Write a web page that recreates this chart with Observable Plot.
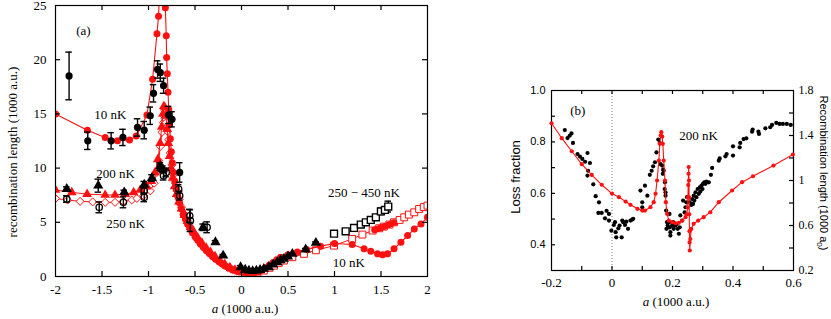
<!DOCTYPE html>
<html><head><meta charset="utf-8">
<script src="https://cdn.jsdelivr.net/npm/d3@7"></script>
<script src="https://cdn.jsdelivr.net/npm/@observablehq/plot@0.6"></script>
<style>
body{margin:0;background:#fff;}
#wrap{position:relative;width:831px;height:319px;overflow:hidden;background:#fff;}
.layer{position:absolute;top:0;}
.layer svg{max-width:none;background:transparent;}
.lbl{position:absolute;white-space:nowrap;color:#000;line-height:1;}
.serif{font-family:"Liberation Serif","Times New Roman",Times,serif;}
.sans{font-family:"Liberation Sans",Arial,Helvetica,sans-serif;}
</style></head>
<body><div id="wrap"></div>
<script>
// ---------- Panel (a) data: [a (1000 a.u.), recombination length (1000 a.u.)] ----------
const theory10nK = [[-2,15.0],[-1.657,13.5],[-1.466,12.83],[-1.334,12.52],[-1.204,12.59],[-1.132,12.95],[-1.017,14.9],[-0.956,18.2],[-0.909,22.4],[-0.892,24.0],[-0.855,32],[-0.819,24.8],[-0.809,22.2],[-0.805,20.2],[-0.798,18.7],[-0.79,17.0],[-0.782,15.4],[-0.774,14.0],[-0.765,12.7],[-0.755,11.5],[-0.744,10.5],[-0.732,9.6],[-0.718,8.8],[-0.703,8.1],[-0.686,7.4],[-0.668,6.8],[-0.648,6.25],[-0.627,5.75],[-0.604,5.3],[-0.58,4.85],[-0.555,4.45],[-0.528,4.05],[-0.5,3.7],[-0.47,3.35],[-0.44,3.0],[-0.41,2.7],[-0.378,2.4],[-0.345,2.12],[-0.312,1.85],[-0.278,1.6],[-0.243,1.38],[-0.207,1.15],[-0.17,0.95],[-0.133,0.75],[-0.095,0.6],[-0.057,0.5],[-0.02,0.42],[0.02,0.38],[0.06,0.35],[0.1,0.33],[0.14,0.35],[0.18,0.42],[0.22,0.58],[0.26,0.8],[0.3,1.05],[0.34,1.3],[0.38,1.55],[0.42,1.78],[0.5,2.0],[0.6,2.25],[0.7,2.5],[0.85,2.8],[1.0,3.05],[1.19,2.95],[1.318,2.55],[1.39,2.33],[1.463,2.09],[1.517,2.0],[1.57,2.09],[1.64,2.55],[1.714,3.16],[1.786,3.78],[1.858,4.39],[1.93,4.85],[2.0,5.46]];
const theory10nKUpper = [[1.43,4.3],[1.46,4.38],[1.49,4.47],[1.52,4.56],[1.55,4.65],[1.58,4.75],[1.61,4.86],[1.64,4.97]];
const theory200nK = [[-2,7.98],[-1.825,7.76],[-1.66,7.6],[-1.466,7.52],[-1.36,7.52],[-1.25,7.6],[-1.16,7.76],[-1.09,7.98],[-1.017,8.29],[-0.97,8.8],[-0.93,9.6],[-0.9,10.8],[-0.875,12.3],[-0.858,13.8],[-0.845,15.0],[-0.835,15.7],[-0.825,15.6],[-0.812,14.8],[-0.8,13.6],[-0.787,12.3],[-0.773,11.1],[-0.757,10.0],[-0.74,9.1],[-0.72,8.3],[-0.698,7.6],[-0.673,6.9],[-0.645,6.25],[-0.615,5.65],[-0.582,5.1],[-0.546,4.55],[-0.508,4.05],[-0.468,3.55],[-0.425,3.1],[-0.38,2.65],[-0.333,2.25],[-0.284,1.85],[-0.233,1.5],[-0.18,1.15],[-0.125,0.85],[-0.07,0.62]];
const theory250nK = [[-2,7.2],[-1.87,7.05],[-1.736,6.93],[-1.6,6.88],[-1.466,6.84],[-1.36,6.84],[-1.27,6.93],[-1.18,7.06],[-1.125,7.2],[-1.053,7.46],[-0.98,7.9],[-0.94,8.6],[-0.91,9.6],[-0.89,10.7],[-0.873,12.0],[-0.855,13.3],[-0.84,14.2],[-0.825,14.6],[-0.81,14.2],[-0.797,13.4],[-0.784,12.6],[-0.766,11.4],[-0.747,10.3],[-0.73,9.4],[-0.71,8.6],[-0.693,7.9],[-0.67,7.1],[-0.645,6.4],[-0.618,5.75],[-0.588,5.15],[-0.555,4.6],[-0.52,4.05],[-0.48,3.5],[-0.44,3.0],[-0.395,2.55],[-0.35,2.15],[-0.3,1.75],[-0.25,1.4],[-0.2,1.1],[-0.15,0.85],[-0.1,0.65],[-0.05,0.5]];
const theory250to450nK = [[0.1,0.25],[0.17,0.35],[0.24,0.55],[0.3,0.8],[0.35,1.0],[0.4,1.25],[0.456,1.47],[0.547,1.78],[0.672,2.09],[0.8,2.42],[0.995,2.85],[1.19,3.47],[1.3,3.87],[1.41,4.24],[1.48,4.45],[1.53,4.6],[1.59,4.79],[1.64,5.0],[1.7,5.22],[1.75,5.46],[1.8,5.71],[1.858,5.92],[1.91,6.23],[1.96,6.4],[2.0,6.54]];
// experiments: [a, L, error]
const exp10nK = [[-1.854,18.5,2.2],[-1.653,12.52,0.8],[-1.402,12.52,0.75],[-1.275,12.83,0.75],[-1.118,13.75,0.8],[-1.046,13.5,0.8],[-0.981,14.83,0.8],[-0.946,16.9,0.8],[-0.902,19.1,0.8],[-0.873,18.8,0.8],[-0.838,17.6,0.7],[-0.784,14.9,0.8],[-0.747,14.5,0.7],[-0.873,10.06,0.3],[-0.665,9.6,0.9]];
const exp200nK = [[-1.879,8.07,0.2],[-1.54,8.38,0.6],[-1.261,7.76,0.2],[-1.046,8.47,0.3],[-0.963,9.09,0.3],[-0.873,10.2,0.3],[-0.845,9.9,0.3],[-0.413,4.54,0.3],[-0.28,3.16,0.15],[-0.197,1.93,0.1],[-0.01,0.86,0.15],[0.04,0.62,0.1],[0.08,0.55,0.1],[0.12,0.5,0.1],[0.16,0.55,0.1],[0.2,0.6,0.1],[0.24,0.7,0.1],[0.294,0.86,0.1],[0.34,1.1,0.1],[0.385,1.32,0.1],[0.42,1.5,0.1],[0.456,1.63,0.1],[0.5,1.85,0.1],[0.547,2.09,0.1],[0.69,2.49,0.1],[0.8,3.1,0.1]];
const exp250nK = [[-1.879,7.15,0.3],[-1.53,6.38,0.5],[-1.27,6.84,0.5],[-1.046,7.3,0.4],[-1.046,7.9,0.3],[-0.838,9.3,0.4],[-0.81,9.6,0.4],[-0.676,8.07,0.4],[-0.665,7.46,0.4],[-0.557,5.6,0.6],[-0.55,5.15,1.0],[-0.37,4.54,0.5]];
const exp250to450nK = [[0.995,3.95,0.2],[1.12,4.17,0.2],[1.21,4.48,0.2],[1.283,4.79,0.2],[1.337,5.0,0.2],[1.39,5.22,0.2],[1.445,5.46,0.2],[1.499,6.0,0.3],[1.542,6.14,0.3],[1.578,6.45,0.5]];
const labelsA = [["(a)",-1.70,22.7],["10 nK",-1.41,14.9],["200 nK",-1.355,9.5],["250 nK",-1.247,4.9],["250 − 450 nK",1.317,7.73],["10 nK",1.155,1.3]];
const xTicksA = [-2,-1.5,-1,-0.5,0,0.5,1,1.5,2];
const yTicksA = [0,5,10,15,20,25];

// ---------- Panel (b) data ----------
// loss fraction at 200 nK: [a, loss fraction]
const lossFraction = [[-0.156,0.846],[-0.147,0.815],[-0.14,0.824],[-0.134,0.833],[-0.129,0.796],[-0.114,0.753],[-0.106,0.743],[-0.098,0.734],[-0.089,0.723],[-0.081,0.757],[-0.073,0.718],[-0.079,0.688],[-0.081,0.669],[-0.062,0.635],[-0.054,0.589],[-0.043,0.565],[-0.045,0.524],[-0.034,0.524],[-0.023,0.503],[-0.018,0.532],[-0.01,0.52],[-0.01,0.494],[-0.002,0.455],[0.006,0.477],[0.01,0.488],[0.012,0.449],[0.014,0.429],[0.021,0.464],[0.025,0.475],[0.032,0.429],[0.034,0.494],[0.037,0.488],[0.043,0.477],[0.047,0.49],[0.053,0.462],[0.061,0.494],[0.067,0.498],[0.07,0.501],[0.094,0.611],[0.1,0.565],[0.1,0.546],[0.109,0.63],[0.117,0.591],[0.125,0.672],[0.131,0.688],[0.136,0.705],[0.142,0.721],[0.147,0.759],[0.153,0.809],[0.158,0.796],[0.16,0.714],[0.166,0.708],[0.168,0.676],[0.171,0.688],[0.175,0.643],[0.177,0.604],[0.179,0.533],[0.182,0.488],[0.186,0.468],[0.19,0.488],[0.19,0.52],[0.169,0.692],[0.174,0.617],[0.177,0.591],[0.18,0.462],[0.184,0.475],[0.191,0.468],[0.193,0.449],[0.193,0.436],[0.199,0.475],[0.202,0.488],[0.204,0.462],[0.21,0.475],[0.215,0.481],[0.217,0.462],[0.221,0.443],[0.224,0.468],[0.226,0.514],[0.232,0.494],[0.235,0.572],[0.24,0.526],[0.243,0.546],[0.246,0.565],[0.248,0.585],[0.257,0.565],[0.262,0.555],[0.265,0.578],[0.268,0.559],[0.27,0.591],[0.272,0.572],[0.276,0.604],[0.279,0.585],[0.283,0.617],[0.287,0.598],[0.29,0.623],[0.292,0.607],[0.296,0.63],[0.299,0.617],[0.301,0.637],[0.305,0.643],[0.309,0.637],[0.312,0.646],[0.32,0.643],[0.327,0.672],[0.331,0.699],[0.353,0.727],[0.356,0.736],[0.375,0.744],[0.379,0.753],[0.4,0.747],[0.4,0.783],[0.422,0.779],[0.424,0.796],[0.435,0.811],[0.444,0.814],[0.463,0.84],[0.465,0.848],[0.484,0.84],[0.486,0.831],[0.507,0.853],[0.523,0.857],[0.529,0.866],[0.543,0.874],[0.554,0.87],[0.565,0.87],[0.578,0.87],[0.591,0.866]];
// recombination length theory: [a, length (1000 a0)]
const recombB = [[-0.2,1.509],[-0.166,1.376],[-0.133,1.26],[-0.1,1.145],[-0.067,1.05],[-0.034,0.962],[0,0.884],[0.023,0.852],[0.045,0.813],[0.061,0.784],[0.084,0.748],[0.1,0.733],[0.109,0.733],[0.127,0.763],[0.138,0.807],[0.144,0.882],[0.149,1.0],[0.155,1.178],[0.158,1.326],[0.161,1.4],[0.163,1.43],[0.166,1.39],[0.168,1.326],[0.171,1.178],[0.175,1.0],[0.178,0.807],[0.182,0.704],[0.188,0.644],[0.199,0.629],[0.21,0.62],[0.221,0.624],[0.232,0.644],[0.243,0.674],[0.247,0.7],[0.25,0.76],[0.251,0.85],[0.252,0.96],[0.253,1.06],[0.2535,1.12],[0.2545,1.0],[0.255,0.85],[0.2555,0.7],[0.256,0.55],[0.2565,0.45],[0.257,0.378],[0.259,0.48],[0.262,0.57],[0.27,0.615],[0.285,0.644],[0.303,0.674],[0.325,0.718],[0.353,0.807],[0.397,0.911],[0.43,0.985],[0.466,1.038],[0.534,1.133],[0.598,1.231]];
const labelsB = [["(b)",-0.113,0.921],["200 nK",0.286,0.824]];
const xTicksB = [-0.2,0,0.2,0.4,0.6];
const xMinorB = [-0.1,0,0.1,0.2,0.3,0.4,0.5];
const yTicksB = [0.4,0.6,0.8,1.0];
const yMinorB = [0.4,0.5,0.6,0.7,0.8,0.9];
const yTicksB2 = [0.2,0.6,1,1.4,1.8];
const yMinorB2 = [0.4,0.6,0.8,1,1.2,1.4,1.6];

// ---------- helpers ----------
const SERIF = '"Liberation Serif","Times New Roman",Times,serif';
const SANS = '"Liberation Sans",Arial,Helvetica,sans-serif';
const RED = "#ff1010";
const P = d => ({x: d[0], y: d[1]});
const E = d => ({x: d[0], y: d[1], e: d[2]});

// inward ticks: length given in pixels, converted to data units of the frame
function frameTicks(xt, yt, xd, yd, fw, fh, len, sides) {
  const dx = len / fw * (xd[1] - xd[0]), dy = len / fh * (yd[1] - yd[0]);
  const o = {stroke: "#000", strokeWidth: 1.2};
  const m = [];
  if (sides.includes("b")) m.push(Plot.ruleX(xt, {x: d => d, y1: yd[0], y2: yd[0] + dy, ...o}));
  if (sides.includes("t")) m.push(Plot.ruleX(xt, {x: d => d, y1: yd[1] - dy, y2: yd[1], ...o}));
  if (sides.includes("l")) m.push(Plot.ruleY(yt, {y: d => d, x1: xd[0], x2: xd[0] + dx, ...o}));
  if (sides.includes("r")) m.push(Plot.ruleY(yt, {y: d => d, x1: xd[1] - dx, x2: xd[1], ...o}));
  return m;
}
function errorBars(rows, cap) {
  const o = {stroke: "#000", strokeWidth: 1.4};
  return [
    Plot.ruleX(rows, {x: "x", y1: d => d.y - d.e, y2: d => d.y + d.e, ...o}),
    Plot.ruleY(rows, {y: d => d.y + d.e, x1: d => d.x - cap, x2: d => d.x + cap, ...o}),
    Plot.ruleY(rows, {y: d => d.y - d.e, x1: d => d.x - cap, x2: d => d.x + cap, ...o})
  ];
}
const fmt = d => String(d);

// ---------- Panel (a) ----------
const A = {width: 441, height: 319, marginLeft: 55, marginRight: 14, marginTop: 5, marginBottom: 43};
const AW = A.width - A.marginLeft - A.marginRight, AH = A.height - A.marginTop - A.marginBottom;
const xDomA = [-2, 2], yDomA = [0, 25];
const e10 = exp10nK.map(E), e200 = exp200nK.map(E), e250 = exp250nK.map(E), e450 = exp250to450nK.map(E);
const plotA = Plot.plot({
  ...A,
  style: {fontFamily: SERIF, fontSize: "13px", background: "transparent", overflow: "visible", color: "#000"},
  x: {domain: xDomA},
  y: {domain: yDomA},
  marks: [
    Plot.line(theory250nK.map(P), {x: "x", y: "y", stroke: RED, strokeWidth: 1, clip: true}),
    Plot.dot(theory250nK.map(P), {x: "x", y: "y", symbol: "diamond2", r: 3.6, stroke: RED, strokeWidth: 1, fill: "white", clip: true}),
    Plot.line(theory200nK.map(P), {x: "x", y: "y", stroke: RED, strokeWidth: 1, clip: true}),
    Plot.dot(theory200nK.map(P), {x: "x", y: "y", symbol: "triangle", r: 3.6, fill: RED, stroke: "none", clip: true}),
    Plot.line(theory250to450nK.map(P), {x: "x", y: "y", stroke: RED, strokeWidth: 1, clip: true}),
    Plot.dot(theory250to450nK.map(P), {x: "x", y: "y", symbol: "square", r: 3.9, stroke: RED, strokeWidth: 1, fill: "white", clip: true}),
    Plot.dot(theory10nKUpper.map(P), {x: "x", y: "y", r: 3.3, fill: RED, clip: true}),
    Plot.line(theory10nK.map(P), {x: "x", y: "y", stroke: RED, strokeWidth: 1.1, clip: true}),
    Plot.dot(theory10nK.map(P), {x: "x", y: "y", r: 3.5, fill: RED, clip: true}),
    ...errorBars(e450, 0.035),
    Plot.dot(e450, {x: "x", y: "y", symbol: "square", r: 3.9, stroke: "#000", strokeWidth: 1.4, fill: "white"}),
    ...errorBars(e250, 0.035),
    Plot.dot(e250, {x: "x", y: "y", r: 3.2, stroke: "#000", strokeWidth: 1.3, fill: "none"}),
    ...errorBars(e200, 0.035),
    Plot.dot(e200, {x: "x", y: "y", symbol: "triangle", r: 3.8, fill: "#000"}),
    ...errorBars(e10, 0.035),
    Plot.dot(e10, {x: "x", y: "y", r: 3.6, fill: "#000"}),
    Plot.text(labelsA, {x: d => d[1], y: d => d[2], text: d => d[0], fontSize: 13, fontFamily: SERIF, fill: "#000"}),
    Plot.frame({stroke: "#000", strokeWidth: 1.2}),
    ...frameTicks(xTicksA.slice(1, -1), yTicksA.slice(1, -1), xDomA, yDomA, AW, AH, 5, "btlr"),
    Plot.axisX(xTicksA, {anchor: "bottom", tickSize: 0, tickPadding: 8, tickFormat: fmt, label: null, fontSize: 13, fontFamily: SERIF}),
    Plot.axisY(yTicksA, {anchor: "left", tickSize: 0, tickPadding: 9, tickFormat: fmt, label: null, fontSize: 13, fontFamily: SERIF})
  ]
});

// ---------- Panel (b): loss fraction (left axis) ----------
const B = {width: 391, height: 319, marginLeft: 111, marginRight: 38, marginTop: 90, marginBottom: 49};
const BW = B.width - B.marginLeft - B.marginRight, BH = B.height - B.marginTop - B.marginBottom;
const xDomB = [-0.2, 0.6], yDomB = [0.3, 1.0], yDomB2 = [0.2, 1.8];
const plotB = Plot.plot({
  ...B,
  style: {fontFamily: SERIF, fontSize: "13px", background: "transparent", overflow: "visible", color: "#000"},
  x: {domain: xDomB},
  y: {domain: yDomB},
  marks: [
    Plot.ruleX([0], {stroke: "#777", strokeWidth: 1, strokeDasharray: "1,2"}),
    Plot.dot(lossFraction.map(P), {x: "x", y: "y", r: 2.1, fill: "#000"}),
    Plot.text(labelsB, {x: d => d[1], y: d => d[2], text: d => d[0], fontSize: 13, fontFamily: SERIF, fill: "#000"}),
    Plot.frame({stroke: "#000", strokeWidth: 1.2}),
    ...frameTicks(xMinorB, yMinorB, xDomB, yDomB, BW, BH, 4, "btl"),
    Plot.axisX(xTicksB, {anchor: "bottom", tickSize: 0, tickPadding: 7, tickFormat: fmt, label: null, fontSize: 13, fontFamily: SERIF}),
    Plot.axisY(yTicksB, {anchor: "left", tickSize: 0, tickPadding: 6, tickFormat: d3.format(".1f"), label: null, fontSize: 11, fontFamily: SANS})
  ]
});

// ---------- Panel (b): recombination length (right axis) ----------
const plotB2 = Plot.plot({
  ...B,
  style: {fontFamily: SERIF, fontSize: "12px", background: "transparent", overflow: "visible", color: "#000"},
  x: {domain: xDomB, axis: null},
  y: {domain: yDomB2},
  marks: [
    Plot.line(recombB.map(P), {x: "x", y: "y", stroke: RED, strokeWidth: 1.1}),
    Plot.dot(recombB.map(P), {x: "x", y: "y", r: 2.1, fill: RED}),
    ...frameTicks([], yMinorB2, xDomB, yDomB2, BW, BH, 4, "r"),
    Plot.axisY(yTicksB2, {anchor: "right", tickSize: 0, tickPadding: 5, tickFormat: fmt, label: null, fontSize: 12, fontFamily: SERIF})
  ]
});

// ---------- assemble ----------
const wrap = document.getElementById("wrap");
function layer(node, left) {
  const d = document.createElement("div");
  d.className = "layer"; d.style.left = left + "px";
  d.appendChild(node); wrap.appendChild(d);
}
layer(plotA, 0);
layer(plotB, 440);
layer(plotB2, 440);

function label(html, cls, cx, cy, size, rot) {
  const d = document.createElement("div");
  d.className = "lbl " + cls;
  d.innerHTML = html;
  d.style.fontSize = size + "px";
  d.style.left = cx + "px"; d.style.top = cy + "px";
  d.style.transform = `translate(-50%,-50%)${rot ? ` rotate(${rot}deg)` : ""}`;
  wrap.appendChild(d);
}
label("recombination length (1000 a.u.)", "serif", 12, 152, 13, -90);
label("<i>a</i> (1000 a.u.)", "serif", 245, 308, 13, 0);
label("Loss fraction", "sans", 515, 177, 13, -90);
label("<i>a</i> (1000 a.u.)", "serif", 676, 301, 13, 0);
label("Recombination length (1000 a<sub style=\"font-size:8px\">0</sub>)", "sans", 822, 173, 11, 90);
</script>
</body></html>
